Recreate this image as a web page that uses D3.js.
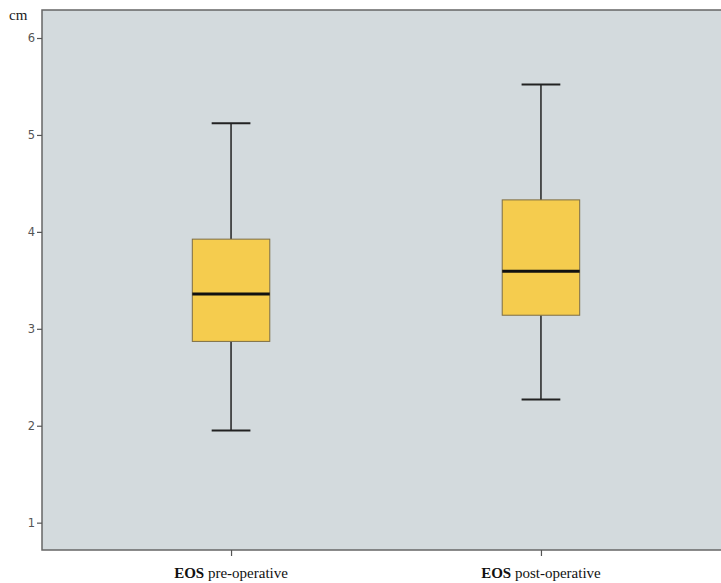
<!DOCTYPE html>
<html><head><meta charset="utf-8">
<script src="https://cdn.jsdelivr.net/npm/d3@7"></script>
<style>body{margin:0;background:#fff}svg{display:block}</style>
</head><body><svg id="c" width="721" height="583"></svg>
<script>
const categories = ["pre-operative", "post-operative"];
const groupPrefix = "EOS";
const whiskerLow = [1.95, 2.27];
const q1 = [2.87, 3.14];
const median = [3.36, 3.595];
const q3 = [3.925, 4.33];
const whiskerHigh = [5.12, 5.52];
const yTicks = [1, 2, 3, 4, 5, 6];
const yUnit = "cm";

const svg = d3.select("#c");
const L = 42, T = 10, R = 730, B = 550;
const x = d3.scalePoint().domain(categories).range([L, R]).padding(0.61);
const y = d3.scaleLinear().domain([0.718, 6.289]).range([B, T]);
const step = x.step();
const boxW = step * 0.25, capW = step * 0.125;

svg.append("rect").attr("x", L).attr("y", T).attr("width", R - L).attr("height", B - T)
  .attr("fill", "#d3dadd").attr("stroke", "#666").attr("stroke-width", 1.5);

const yAxis = svg.append("g").attr("transform", `translate(${L},0)`)
  .call(d3.axisLeft(y).tickValues(yTicks).tickSize(5).tickPadding(2).tickFormat(d3.format("d")));
yAxis.select(".domain").remove();
yAxis.selectAll("line").attr("stroke", "#555").attr("stroke-width", 1.2);
yAxis.selectAll("text").attr("fill", "#555").style("font-family", "DejaVu Sans, sans-serif").style("font-size", "11.5px");

const xAxis = svg.append("g").attr("transform", `translate(0,${B})`)
  .call(d3.axisBottom(x).tickSize(6).tickFormat(""));
xAxis.select(".domain").remove();
xAxis.selectAll("line").attr("stroke", "#555").attr("stroke-width", 1.2);

svg.append("text").attr("x", 9).attr("y", 20).text(yUnit)
  .style("font-family", "Liberation Serif, serif").style("font-size", "15px").attr("fill", "#222");

categories.forEach((c, i) => {
  const cx = x(c);
  const g = svg.append("g");
  g.append("line").attr("x1", cx).attr("x2", cx).attr("y1", y(whiskerHigh[i])).attr("y2", y(q3[i]))
    .attr("stroke", "#222").attr("stroke-width", 1.5);
  g.append("line").attr("x1", cx).attr("x2", cx).attr("y1", y(q1[i])).attr("y2", y(whiskerLow[i]))
    .attr("stroke", "#222").attr("stroke-width", 1.5);
  [whiskerHigh[i], whiskerLow[i]].forEach(v => {
    g.append("line").attr("x1", cx - capW / 2).attr("x2", cx + capW / 2).attr("y1", y(v)).attr("y2", y(v))
      .attr("stroke", "#222").attr("stroke-width", 2);
  });
  g.append("rect").attr("x", cx - boxW / 2).attr("width", boxW)
    .attr("y", y(q3[i])).attr("height", y(q1[i]) - y(q3[i]))
    .attr("fill", "#f5cc4e").attr("stroke", "#7d6e45").attr("stroke-width", 1);
  g.append("line").attr("x1", cx - boxW / 2).attr("x2", cx + boxW / 2).attr("y1", y(median[i])).attr("y2", y(median[i]))
    .attr("stroke", "#111").attr("stroke-width", 3);

  const t = svg.append("text").attr("x", cx).attr("y", 578).attr("text-anchor", "middle")
    .style("font-family", "Liberation Serif, serif").style("font-size", "15px").attr("fill", "#111");
  t.append("tspan").attr("font-weight", "bold").text(groupPrefix);
  t.append("tspan").text(" " + c);
});
</script></body></html>
